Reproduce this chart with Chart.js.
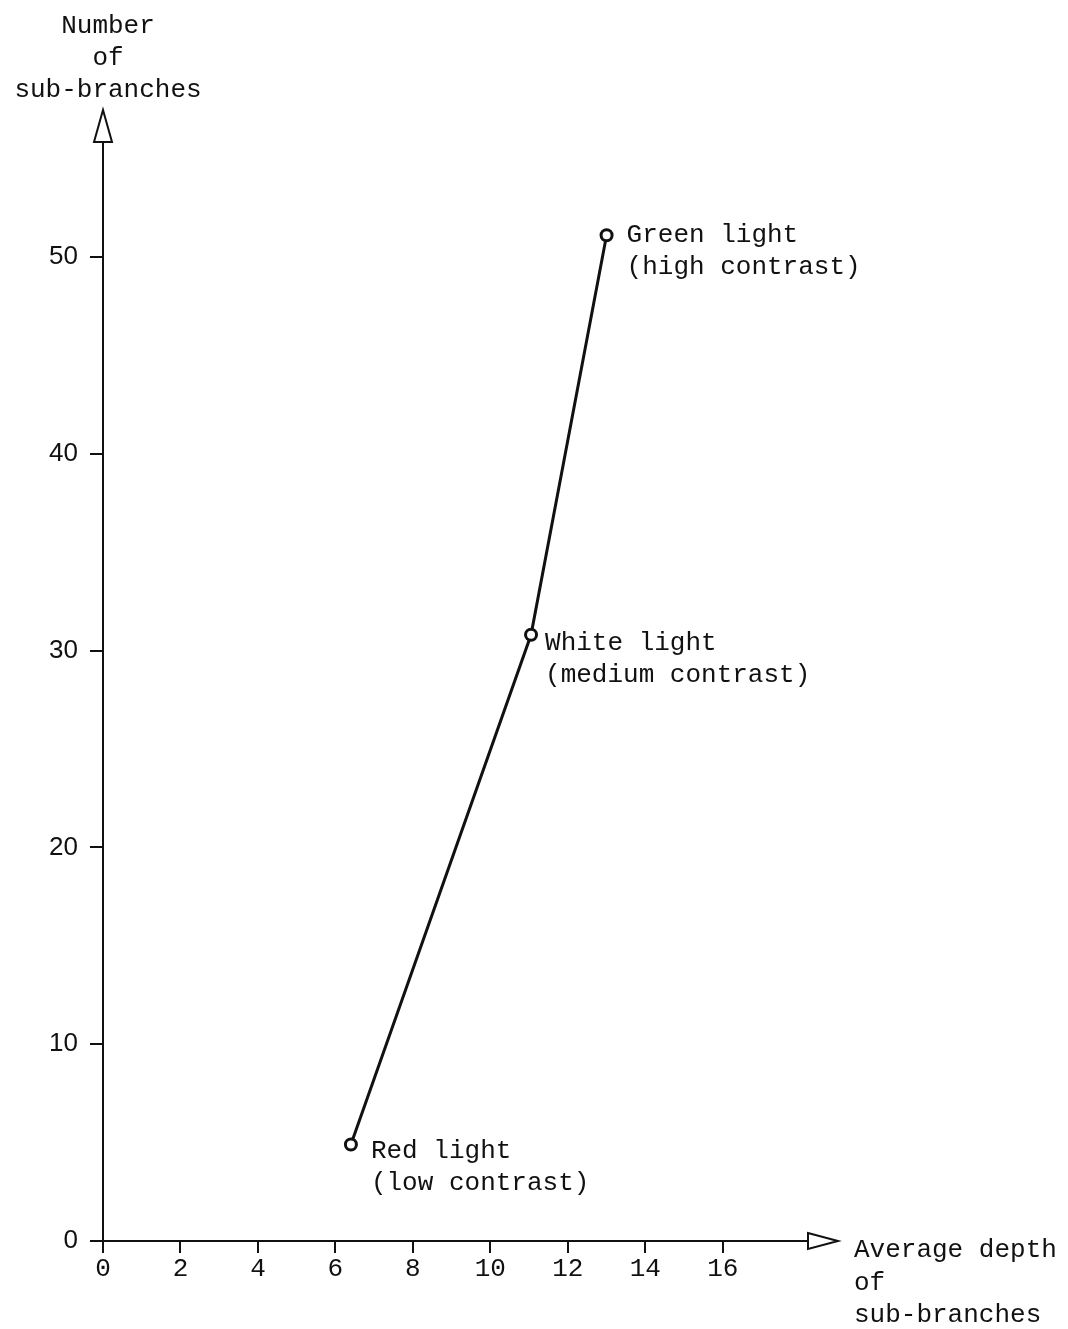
<!DOCTYPE html>
<html>
<head>
<meta charset="utf-8">
<script src="https://cdn.jsdelivr.net/npm/chart.js@4.4.1/dist/chart.umd.min.js"></script>
<style>
  html, body { margin: 0; padding: 0; background: #fff; }
  canvas { display: block; }
</style>
</head>
<body>
<canvas id="c" width="1068" height="1329"></canvas>
<script>
// ---- data ----
const lightNames = ["Red light", "White light", "Green light"];
const contrastNames = ["(low contrast)", "(medium contrast)", "(high contrast)"];
const avgDepth = [6.4, 11.05, 13.0];
const subBranches = [4.9, 30.8, 51.1];
const xTickValues = [0, 2, 4, 6, 8, 10, 12, 14, 16];
const yTickValues = [0, 10, 20, 30, 40, 50];
const yTitleLines = ["Number", "of", "sub-branches"];
const xTitleLines = ["Average depth", "of", "sub-branches"];

const INK = '#111';
const MONO = '"Liberation Mono", "DejaVu Sans Mono", monospace';
const SANS = '"Liberation Sans", Arial, sans-serif';

const points = avgDepth.map((x, i) => ({ x: x, y: subBranches[i] }));

// label offsets (style only) relative to each point: [dx, dy of first line]
const labelOffsets = [[20, 7], [14, 8], [20, 0]];

const annotatePlugin = {
  id: 'annotate',
  afterDraw(chart) {
    const ctx = chart.ctx;
    const area = chart.chartArea;
    ctx.save();
    ctx.strokeStyle = INK;
    ctx.fillStyle = '#fff';
    ctx.lineWidth = 2;
    ctx.lineJoin = 'miter';
    // x axis arrowhead (open triangle)
    const xb = area.right, yb = area.bottom;
    ctx.beginPath();
    ctx.moveTo(xb, yb - 8);
    ctx.lineTo(xb + 30, yb);
    ctx.lineTo(xb, yb + 8);
    ctx.closePath();
    ctx.fill();
    ctx.stroke();
    // y axis arrowhead
    const xl = area.left, yt = area.top;
    ctx.beginPath();
    ctx.moveTo(xl - 9, yt);
    ctx.lineTo(xl, yt - 32);
    ctx.lineTo(xl + 9, yt);
    ctx.closePath();
    ctx.fill();
    ctx.stroke();

    // axis titles
    ctx.fillStyle = INK;
    ctx.font = '26px ' + MONO;
    ctx.textBaseline = 'middle';
    ctx.textAlign = 'center';
    const yTitleY = [26, 58, 90];
    yTitleLines.forEach((t, i) => ctx.fillText(t, xl + 5, yTitleY[i]));
    ctx.textAlign = 'left';
    const xTitleY = [1250, 1283, 1315];
    xTitleLines.forEach((t, i) => ctx.fillText(t, xb + 46, xTitleY[i]));

    // point labels
    const meta = chart.getDatasetMeta(0);
    meta.data.forEach((el, i) => {
      const [dx, dy] = labelOffsets[i];
      ctx.fillText(lightNames[i], el.x + dx, el.y + dy);
      ctx.fillText(contrastNames[i], el.x + dx, el.y + dy + 32);
    });
    ctx.restore();
  }
};

new Chart(document.getElementById('c'), {
  type: 'scatter',
  data: {
    datasets: [{
      data: points,
      showLine: true,
      borderColor: INK,
      borderWidth: 3,
      pointRadius: 5.5,
      pointHoverRadius: 5.5,
      pointBorderWidth: 3,
      pointBorderColor: INK,
      pointBackgroundColor: '#fff',
      tension: 0
    }]
  },
  options: {
    responsive: false,
    animation: false,
    events: [],
    layout: { padding: { left: 0, top: 142, right: 260, bottom: 0 } },
    plugins: { legend: { display: false }, tooltip: { enabled: false } },
    scales: {
      x: {
        type: 'linear',
        min: 0,
        max: 18.2,
        afterBuildTicks: s => { s.ticks = xTickValues.map(v => ({ value: v })); },
        afterFit: s => { s.height = 88; },
        grid: { drawOnChartArea: false, drawTicks: true, tickLength: 12, color: INK, lineWidth: 2 },
        border: { display: true, color: INK, width: 2 },
        ticks: { color: INK, font: { family: MONO, size: 26 }, padding: 1, maxRotation: 0, autoSkip: false }
      },
      y: {
        type: 'linear',
        min: 0,
        max: 55.84,
        afterBuildTicks: s => { s.ticks = yTickValues.map(v => ({ value: v })); },
        afterFit: s => { s.width = 103; },
        grid: { drawOnChartArea: false, drawTicks: true, tickLength: 13, color: INK, lineWidth: 2 },
        border: { display: true, color: INK, width: 2 },
        ticks: { color: INK, font: { family: SANS, size: 26 }, padding: 12, autoSkip: false }
      }
    }
  },
  plugins: [annotatePlugin]
});
</script>
</body>
</html>
